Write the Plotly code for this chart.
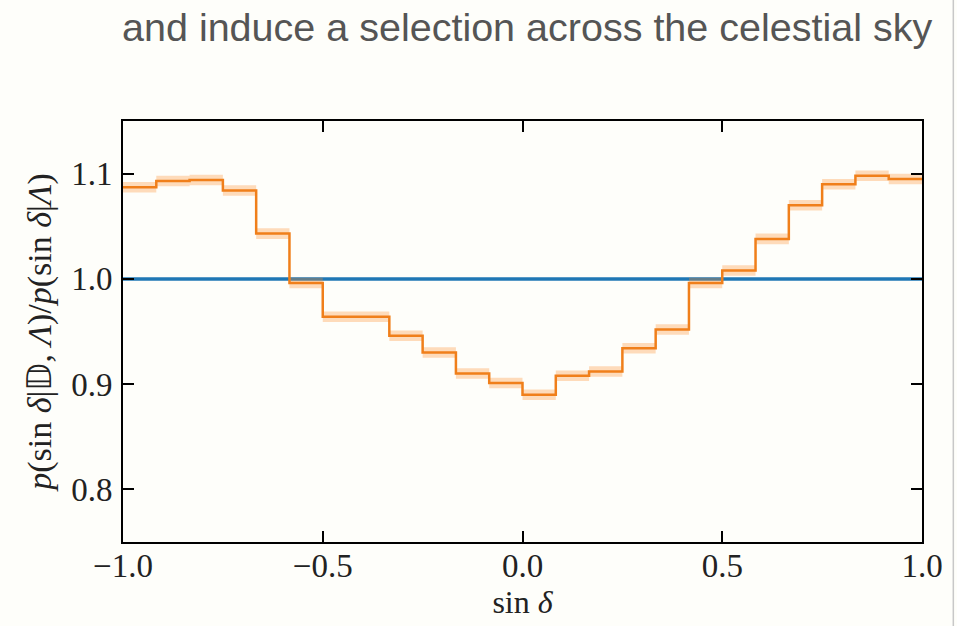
import numpy as np
import plotly.graph_objects as go

# Binned declination selection ratio p(sin d | D, L) / p(sin d | L)
bin_edges = np.linspace(-1.0, 1.0, 25)
ratio = [1.087, 1.093, 1.094, 1.084, 1.043, 0.996, 0.964, 0.964,
         0.946, 0.930, 0.910, 0.901, 0.890, 0.908, 0.912, 0.934,
         0.952, 0.996, 1.008, 1.038, 1.070, 1.090, 1.098, 1.095]
ratio_err = [0.005, 0.005, 0.005, 0.005, 0.005, 0.005, 0.005, 0.005,
             0.005, 0.005, 0.005, 0.005, 0.005, 0.005, 0.005, 0.005,
             0.005, 0.005, 0.005, 0.005, 0.005, 0.005, 0.005, 0.005]

# Isotropic reference level
ref_x = [-1.0, 1.0]
ref_y = [1.0, 1.0]

x_ticks = [-1.0, -0.5, 0.0, 0.5, 1.0]
y_ticks = [0.8, 0.9, 1.0, 1.1]

ORANGE = "#f07f1a"
BLUE = "#1f77b4"
BG = "#fefefa"
SERIF = "Liberation Serif"


def step(vals):
    """Close a per-bin series so an 'hv' line spans the final bin."""
    return list(bin_edges), list(vals) + [vals[-1]]


lo = [v - e for v, e in zip(ratio, ratio_err)]
hi = [v + e for v, e in zip(ratio, ratio_err)]

fig = go.Figure()

fig.add_trace(go.Scatter(x=ref_x, y=ref_y, mode="lines",
                         line=dict(color=BLUE, width=3.5), hoverinfo="skip"))

xs, ys = step(lo)
fig.add_trace(go.Scatter(x=xs, y=ys, mode="lines", line=dict(width=0, shape="hv"),
                         hoverinfo="skip"))
xs, ys = step(hi)
fig.add_trace(go.Scatter(x=xs, y=ys, mode="lines", line=dict(width=0, shape="hv"),
                         fill="tonexty", fillcolor="rgba(255,140,40,0.3)",
                         hoverinfo="skip"))
xs, ys = step(ratio)
fig.add_trace(go.Scatter(x=xs, y=ys, mode="lines",
                         line=dict(color=ORANGE, width=2.5, shape="hv")))

axis_common = dict(
    showline=True, linecolor="black", linewidth=2, mirror="allticks",
    ticks="inside", ticklen=11, tickwidth=2, tickcolor="black",
    showgrid=False, zeroline=False,
    tickfont=dict(family=SERIF, size=33, color="#222222"),
)

fig.update_layout(
    width=957, height=626,
    margin=dict(l=123, r=35, t=121, b=84),
    paper_bgcolor=BG, plot_bgcolor=BG,
    showlegend=False,
    title=dict(text="and induce a selection across the celestial sky",
               x=122 / 957, xanchor="left", xref="container",
               y=1 - 27 / 626, yanchor="middle", yref="container",
               font=dict(family="Liberation Sans", size=39.5, color="#555555")),
    xaxis=dict(range=[-1.0, 1.0], tickvals=x_ticks, tickformat=".1f",
               ticklabelstandoff=-7,
               title=dict(text="sin <i>δ</i>", standoff=6,
                          font=dict(family=SERIF, size=32, color="#222222")),
               **axis_common),
    yaxis=dict(range=[0.75, 1.15], tickvals=y_ticks, tickformat=".1f",
               ticklabelstandoff=2,
               title=dict(text="<i>p</i>(sin <i>δ</i>|𝔻, <i>Λ</i>)/<i>p</i>(sin <i>δ</i>|<i>Λ</i>)",
                          standoff=9,
                          font=dict(family=SERIF, size=34, color="#222222")),
               **axis_common),
    shapes=[dict(type="line", xref="paper", yref="paper",
                 x0=1.0392, x1=1.0392, y0=-0.21, y1=1.29,
                 line=dict(color="#c8c8c8", width=1.5))],
)

fig.write_html("out.html")
